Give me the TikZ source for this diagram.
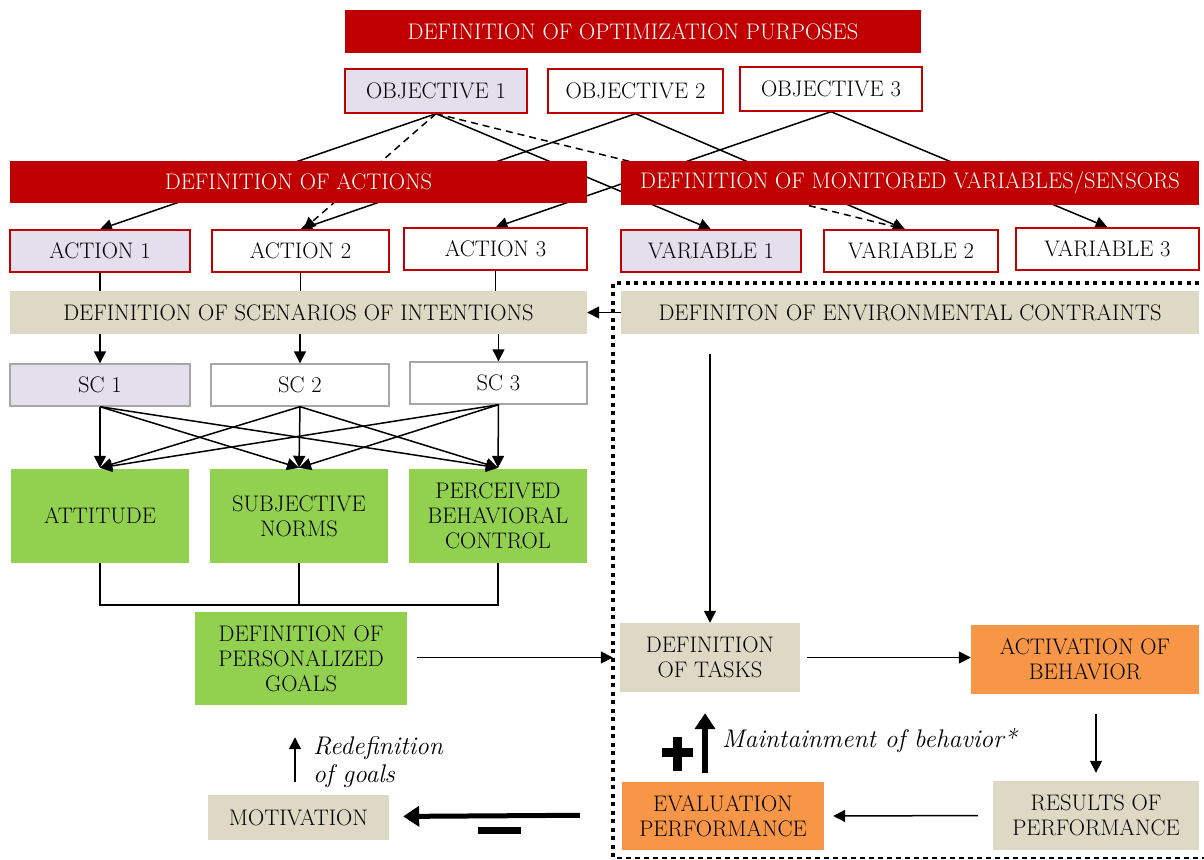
\documentclass[tikz,border=0pt]{standalone}
\usetikzlibrary{arrows.meta,calc}
\pgfdeclarelayer{bg}
\pgfsetlayers{bg,main}
\definecolor{banred}{HTML}{C00000}
\definecolor{lav}{HTML}{E4DFEC}
\definecolor{tanc}{HTML}{DDD9C4}
\definecolor{grn}{HTML}{92D050}
\definecolor{org}{HTML}{F79646}
\definecolor{scgray}{HTML}{A6A6A6}
\begin{document}
\begin{tikzpicture}[x=1pt,y=-1pt,
  base/.style={inner sep=0pt,align=center,font=\fontsize{22.5}{25}\selectfont},
  banner/.style={base,fill=banred,text=white,minimum width=#1,minimum height=43pt},
  rbox/.style={base,draw=banred,line width=1.4pt,fill=white,minimum width=#1,minimum height=42pt},
  scbox/.style={base,draw=scgray,line width=1.4pt,fill=white,minimum width=#1,minimum height=42pt},
  tanbox/.style={base,fill=tanc},
  grnbox/.style={base,fill=grn},
  orgbox/.style={base,fill=org},
  arr/.style={line width=1.5pt,-{Triangle[length=12pt,width=12pt]}},
  dsh/.style={dash pattern=on 7pt off 5pt},
  ln/.style={line width=1.5pt},
  fat/.style={line width=5pt,-{Triangle[length=16pt,width=20pt]}},
  fatup/.style={line width=6pt,-{Triangle[length=16pt,width=20pt]}},
  note/.style={inner sep=0pt,align=left,font=\fontsize{25.5}{28}\selectfont\itshape}
]
\useasboundingbox (0,0) rectangle (1204,859);

% --- top nodes
\node[banner=576pt] (title) at (633,31.5) {DEFINITION OF OPTIMIZATION PURPOSES};
\node[rbox=182pt,fill=lav,minimum height=44pt] (obj1) at (436,91) {OBJECTIVE 1};
\node[rbox=175pt,minimum height=44pt] (obj2) at (635.5,91) {OBJECTIVE 2};
\node[rbox=182pt,minimum height=44pt] (obj3) at (831,89) {OBJECTIVE 3};

\node[banner=577pt,minimum height=42pt] (actban) at (298.5,182) {DEFINITION OF ACTIONS};
\node[banner=578pt,minimum height=44pt] (varban) at (910,183) {DEFINITION OF MONITORED VARIABLES/SENSORS};

\node[rbox=180pt,fill=lav] (act1) at (100,251) {ACTION 1};
\node[rbox=177pt] (act2) at (300.5,251) {ACTION 2};
\node[rbox=183pt] (act3) at (495.5,249) {ACTION 3};
\node[rbox=180pt,fill=lav] (var1) at (711,251) {VARIABLE 1};
\node[rbox=174pt] (var2) at (911,251) {VARIABLE 2};
\node[rbox=183pt] (var3) at (1107.5,249) {VARIABLE 3};

\begin{pgfonlayer}{bg}
  \draw[arr] (obj1.south) -- (act1.north);
  \draw[arr,dsh] (obj1.south) -- ([xshift=3pt]act2.north);
  \draw[arr] (obj1.south) -- (var1.north);
  \draw[arr,dsh] (obj1.south) -- ([xshift=-6pt]var2.north);
  \draw[arr] (obj2.south) -- (act2.north);
  \draw[arr] (obj2.south) -- ([xshift=-6pt]var2.north);
  \draw[arr] (obj3.south) -- (act3.north);
  \draw[arr] (obj3.south) -- (var3.north);
\end{pgfonlayer}

% --- scenarios
\node[tanbox,minimum width=577pt,minimum height=43pt] (scen) at (298.5,312.5) {DEFINITION OF SCENARIOS OF INTENTIONS};
\node[tanbox,minimum width=578pt,minimum height=43pt] (env) at (910,312.5) {DEFINITON OF ENVIRONMENTAL CONTRAINTS};

\draw[ln] (act1.south) -- (act1.south |- scen.north);
\draw[ln] (act2.south) -- (act2.south |- scen.north);
\draw[ln] (act3.south) -- (act3.south |- scen.north);

\node[scbox=180pt,fill=lav] (sc1) at (100,385) {SC 1};
\node[scbox=178pt] (sc2) at (300,385) {SC 2};
\node[scbox=177pt] (sc3) at (498.5,383) {SC 3};

\draw[arr] (scen.south -| sc1.north) -- (sc1.north);
\draw[arr] (scen.south -| sc2.north) -- (sc2.north);
\draw[arr] (scen.south -| sc3.north) -- (sc3.north);
\draw[arr] (env.west) -- (scen.east);

% --- TPB boxes
\node[grnbox,minimum width=178pt,minimum height=94pt] (att) at (100,516) {ATTITUDE};
\node[grnbox,minimum width=178pt,minimum height=94pt] (sub) at (299,516) {SUBJECTIVE\\NORMS};
\node[grnbox,minimum width=178pt,minimum height=94pt] (pbc) at (498,516) {PERCEIVED\\BEHAVIORAL\\CONTROL};

\foreach \s in {sc1,sc2,sc3}{
  \foreach \t in {att,sub,pbc}{
    \draw[arr] (\s.south) -- ([yshift=1pt]\t.north);
  }
}

\node[grnbox,minimum width=212pt,minimum height=93pt] (goals) at (301,658.5) {DEFINITION OF\\PERSONALIZED\\GOALS};

\coordinate (brk) at (0,605);
\draw[ln] (att.south) -- (att.south |- brk) -- (pbc.south |- brk) -- (pbc.south);
\draw[ln] (sub.south) -- (sub.south |- brk);

% --- right process
\node[tanbox,minimum width=180pt,minimum height=69pt] (tasks) at (710,657.5) {DEFINITION\\OF TASKS};
\node[orgbox,minimum width=228pt,minimum height=69pt] (activ) at (1085,659.5) {ACTIVATION OF\\BEHAVIOR};
\node[tanbox,minimum width=206pt,minimum height=69pt] (results) at (1096,815.5) {RESULTS OF\\PERFORMANCE};
\node[orgbox,minimum width=202pt,minimum height=68pt] (evalp) at (723,816) {EVALUATION\\PERFORMANCE};
\node[tanbox,minimum width=181pt,minimum height=45pt] (motiv) at (298.5,817.5) {MOTIVATION};

\draw[arr,shorten <=10pt,shorten >=7pt] (goals.east |- tasks.west) -- (tasks.west);
\draw[arr,shorten <=20pt] (tasks.north |- env.south) -- (tasks.north);
\draw[arr,shorten <=7pt] (tasks.east) -- (activ.west |- tasks.east);
\draw[arr,shorten <=20pt,shorten >=8pt] (results.north |- activ.south) -- (results.north);
\draw[arr,shorten <=15pt,shorten >=9pt] (results.west) -- (evalp.east);
\draw[fatup,shorten <=9pt,shorten >=21pt] ([xshift=-18pt]evalp.north) -- ([xshift=-5pt]tasks.south);
\draw[fat,shorten <=42pt,shorten >=14pt] ([yshift=1pt]evalp.west) -- ([yshift=1pt]motiv.east);
\draw[arr,shorten <=13pt,shorten >=32pt] ([xshift=-3.5pt]motiv.north) -- ([xshift=-6pt]goals.south);

% plus and minus signs
\fill (662,748) rectangle (693,757);
\fill (673,737) rectangle (682,771);
\fill (478,827) rectangle (521,834);

% notes
\node[note,anchor=west] (redef) at (313,762) {Redefinition\\of goals};
\node[note,anchor=west] (maint) at (722,741) {Maintainment of behavior*};

% dotted frame
\draw[line width=4pt,dash pattern=on 4pt off 4.5pt] (613,857) -- (613,283) -- (1204,283);
\draw[line width=2.5pt,dash pattern=on 5pt off 4pt] (617,858) -- (1204,858);
\end{tikzpicture}
\end{document}
